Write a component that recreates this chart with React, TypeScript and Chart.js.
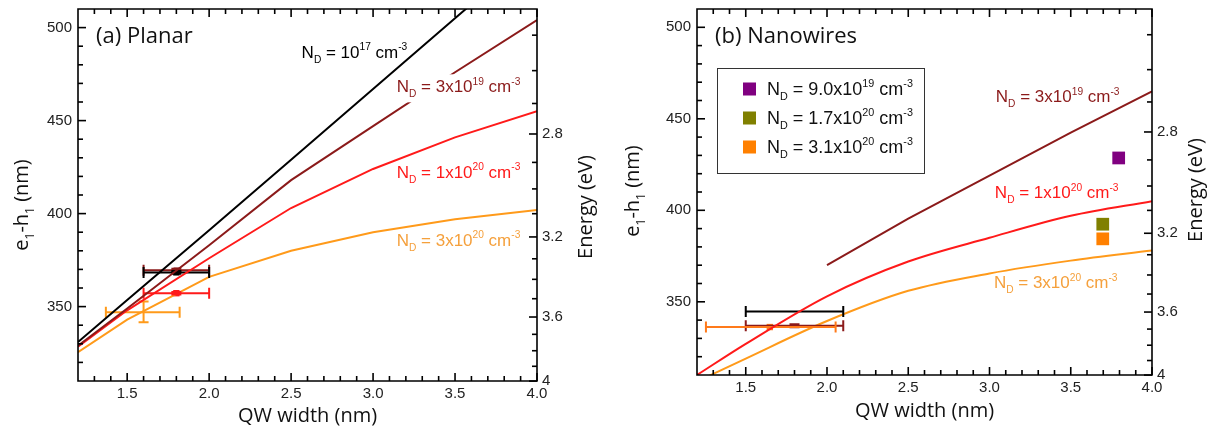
import React, { useEffect, useRef } from 'react';
import { Chart, registerables } from 'chart.js';

Chart.register(...registerables);

// ---------------- shared axes ----------------
const HC_EV_NM = 1239.84;
const X_MIN = 1.2;
const X_MAX = 4.0;
const Y_MIN = 310;
const Y_MAX = 510;
const xMajorTicks = [1.5, 2.0, 2.5, 3.0, 3.5, 4.0];
const xMinorTicks = [1.3, 1.4, 1.6, 1.7, 1.8, 1.9, 2.1, 2.2, 2.3, 2.4, 2.6, 2.7, 2.8, 2.9, 3.1, 3.2, 3.3, 3.4, 3.6, 3.7, 3.8, 3.9];
const yMajorTicks = [350, 400, 450, 500];
const yMinorTicks = [320, 330, 340, 360, 370, 380, 390, 410, 420, 430, 440, 460, 470, 480, 490];
const energyMajorTicks = [2.8, 3.2, 3.6, 4.0];
const energyTickLabels = ['2.8', '3.2', '3.6', '4'];
const energyMinorTicks = [2.5, 2.6, 2.7, 2.9, 3.0, 3.1, 3.3, 3.4, 3.5, 3.7, 3.8, 3.9];

const BLACK = '#000000';
const DARKRED = '#8b1a1a';
const RED = '#ff1a1a';
const ORANGE = '#ff9a1a';
const ORANGE_TEXT = '#f5a03c';

// ---------------- (a) Planar ----------------
const planarWidths = [1.2, 1.5, 2.0, 2.5, 3.0, 3.5, 4.0];
const planarNd1e17 = [331, 353.5, 391, 429, 467, 505, 543];
const planarNd3e19 = [329, 349, 383, 418, 447, 476, 504];
const planarNd1e20 = [328.5, 348, 376, 403, 424, 441, 455];
const planarNd3e20 = [325.5, 343, 366, 380, 390, 397, 402];

const planarExpWidth = [1.8, 1.8, 1.8, 1.6];
const planarExpWl = [369.5, 368.4, 357.2, 346.9];
const planarExpWidthLo = [1.6, 1.6, 1.6, 1.37];
const planarExpWidthHi = [2.0, 2.0, 2.0, 1.82];
const planarExpWlLo = [368.7, 367.6, 356.5, 341.6];
const planarExpWlHi = [370.3, 369.2, 357.9, 352.7];
const planarExpColors = [DARKRED, BLACK, RED, ORANGE];
const planarExpMarker = [4, 4.5, 4.5, 0];

// ---------------- (b) Nanowires ----------------
const nwWidthsHigh = [2.0, 2.5, 3.0, 3.5, 4.0];
const nwNd3e19 = [370, 395.5, 419, 442.5, 465];
const nwWidths = [1.2, 1.5, 2.0, 2.5, 3.0, 3.5, 4.0];
const nwNd1e20 = [310, 327, 353, 372, 385, 397, 405];
const nwNd3e20 = [306.4, 319, 339.5, 356, 365.5, 372.5, 378];

const nwExpWidth = [1.8, 1.8, 1.648];
const nwExpWl = [344.7, 336.9, 336.2];
const nwExpWidthLo = [1.5, 1.5, 1.255];
const nwExpWidthHi = [2.1, 2.1, 2.053];
const nwExpWlLo = [344.7, 336.1, 336.2];
const nwExpWlHi = [344.7, 337.7, 336.2];
const nwExpColors = [BLACK, DARKRED, '#ff7a1a'];
const nwExpMarker = [0, 0, 4.5];

const nwSampleWidth = [3.795, 3.697, 3.697];
const nwSampleWl = [428.6, 392.4, 384.4];
const nwSampleColors = ['#800080', '#808000', '#ff8000'];
const nwSampleMantissa = ['9.0x', '1.7x', '3.1x'];
const nwSampleExponent = ['19', '20', '20'];

// ---------------- text helpers ----------------
type Seg = [string, number]; // 0 normal, 1 superscript, -1 subscript
const SANS = '"Liberation Sans", Arial, sans-serif';
const TITLE_FONT = '"Open Sans", "Liberation Sans", sans-serif';

const nd = (mant: string, exp: string): Seg[] => [
  ['N', 0], ['D', -1], [` = ${mant}10`, 0], [exp, 1], [' cm', 0], ['-3', 1],
];

function segFont(size: number, fam: string, k: number) {
  return `${k ? (size * 0.6).toFixed(1) : size}px ${fam}`;
}
function measureRich(ctx: CanvasRenderingContext2D, segs: Seg[], size: number, fam: string) {
  let w = 0;
  for (const [t, k] of segs) {
    ctx.font = segFont(size, fam, k);
    w += ctx.measureText(t).width;
  }
  return w;
}
function drawRich(ctx: CanvasRenderingContext2D, segs: Seg[], x: number, y: number, size: number, fam: string, color: string) {
  ctx.fillStyle = color;
  ctx.textAlign = 'left';
  ctx.textBaseline = 'alphabetic';
  let cx = x;
  for (const [t, k] of segs) {
    ctx.font = segFont(size, fam, k);
    const dy = k === 1 ? -size * 0.42 : k === -1 ? size * 0.3 : 0;
    ctx.fillText(t, cx, y + dy);
    cx += ctx.measureText(t).width;
  }
  return cx - x;
}

interface Curve { xs: number[]; ys: number[]; color: string; smooth: boolean }
interface Note { segs: Seg[]; x: number; y: number; color: string; bg?: boolean }
interface PanelSpec {
  width: number;
  height: number;
  margins: { left: number; right: number; top: number; bottom: number };
  label: string;
  curves: Curve[];
  exp: { xs: number[]; ys: number[]; xlo: number[]; xhi: number[]; ylo: number[]; yhi: number[]; colors: string[]; marker: number[] };
  samples?: { xs: number[]; ys: number[]; colors: string[] };
  legend?: Seg[][];
  notes: Note[];
  yTitle: { x: number; y: number };
  eTitle: { x: number; y: number };
  xTitleDy: number;
}

const NOTE_SIZE = 17;
const MAJOR_LEN = 8;
const MINOR_LEN = 5;

function drawFrameAndTicks(chart: any) {
  const ctx: CanvasRenderingContext2D = chart.ctx;
  const xs = chart.scales.x;
  const ys = chart.scales.y;
  const ca = chart.chartArea;
  const L = ca.left, R = ca.right, T = ca.top, B = ca.bottom;
  ctx.save();
  ctx.strokeStyle = '#000000';
  ctx.lineWidth = 1.6;
  ctx.beginPath();
  ctx.rect(L, T, R - L, B - T);
  ctx.stroke();
  ctx.lineWidth = 1.6;
  const seg = (x0: number, y0: number, x1: number, y1: number) => {
    ctx.beginPath();
    ctx.moveTo(x0, y0);
    ctx.lineTo(x1, y1);
    ctx.stroke();
  };
  const xTick = (v: number, len: number) => {
    const p = xs.getPixelForValue(v);
    seg(p, B, p, B - len);
    seg(p, T, p, T + len);
  };
  xMajorTicks.forEach((v) => xTick(v, MAJOR_LEN));
  xMinorTicks.forEach((v) => xTick(v, MINOR_LEN));
  const yTick = (v: number, len: number) => {
    const p = ys.getPixelForValue(v);
    seg(L, p, L + len, p);
  };
  yMajorTicks.forEach((v) => yTick(v, MAJOR_LEN));
  yMinorTicks.forEach((v) => yTick(v, MINOR_LEN));
  const eTick = (ev: number, len: number) => {
    const p = ys.getPixelForValue(HC_EV_NM / ev);
    seg(R, p, R - len, p);
  };
  energyMajorTicks.forEach((v) => eTick(v, MAJOR_LEN));
  energyMinorTicks.forEach((v) => eTick(v, MINOR_LEN));
  ctx.restore();
}

function decorPlugin(spec: PanelSpec) {
  return {
    id: 'decor',
    afterDatasetDraw(chart: any, args: any) {
      if (args.index !== spec.curves.length - 1) return;
      const ctx: CanvasRenderingContext2D = chart.ctx;
      const xs = chart.scales.x;
      const ys = chart.scales.y;
      const e = spec.exp;
      ctx.save();
      ctx.lineWidth = 2;
      for (let i = 0; i < e.xs.length; i++) {
        ctx.strokeStyle = e.colors[i];
        const py = ys.getPixelForValue(e.ys[i]);
        const x0 = xs.getPixelForValue(e.xlo[i]);
        const x1 = xs.getPixelForValue(e.xhi[i]);
        const px = xs.getPixelForValue(e.xs[i]);
        ctx.beginPath();
        ctx.moveTo(x0, py); ctx.lineTo(x1, py);
        ctx.moveTo(x0, py - 5.5); ctx.lineTo(x0, py + 5.5);
        ctx.moveTo(x1, py - 5.5); ctx.lineTo(x1, py + 5.5);
        const y0 = ys.getPixelForValue(e.ylo[i]);
        const y1 = ys.getPixelForValue(e.yhi[i]);
        if (Math.abs(y1 - y0) > 0.5) {
          ctx.moveTo(px, y0); ctx.lineTo(px, y1);
          ctx.moveTo(px - 5, y0); ctx.lineTo(px + 5, y0);
          ctx.moveTo(px - 5, y1); ctx.lineTo(px + 5, y1);
        }
        ctx.stroke();
      }
      ctx.restore();
    },
    afterDatasetsDraw(chart: any) {
      const ctx: CanvasRenderingContext2D = chart.ctx;
      const xs = chart.scales.x;
      const ys = chart.scales.y;
      const ca = chart.chartArea;
      ctx.save();
      for (const n of spec.notes) {
        const px = xs.getPixelForValue(n.x);
        const py = ys.getPixelForValue(n.y);
        if (n.bg) {
          const w = measureRich(ctx, n.segs, NOTE_SIZE, SANS);
          ctx.fillStyle = '#ffffff';
          ctx.fillRect(px - 2, py - 18, w + 4, 28);
        }
        drawRich(ctx, n.segs, px, py, NOTE_SIZE, SANS, n.color);
      }
      if (spec.legend && spec.samples) {
        const lx = ca.left + 20;
        const ly = ca.top + 59;
        ctx.strokeStyle = '#333';
        ctx.lineWidth = 1;
        ctx.strokeRect(lx + 0.5, ly + 0.5, 207, 105);
        spec.legend.forEach((segs, i) => {
          const cy = ly + 21 + i * 29;
          ctx.fillStyle = spec.samples!.colors[i];
          ctx.fillRect(lx + 26, cy - 6.5, 13, 13);
          drawRich(ctx, segs, lx + 50, cy + 6, 18, SANS, '#111');
        });
      }
      ctx.restore();
    },
    afterDraw(chart: any) {
      const ctx: CanvasRenderingContext2D = chart.ctx;
      const ca = chart.chartArea;
      drawFrameAndTicks(chart);
      ctx.save();
      // panel label
      ctx.fillStyle = '#111';
      ctx.font = `22px ${TITLE_FONT}`;
      ctx.textAlign = 'left';
      ctx.textBaseline = 'alphabetic';
      ctx.fillText(spec.label, ca.left + 18, ca.top + 34);

      // x title
      ctx.font = `20px ${TITLE_FONT}`;
      ctx.textAlign = 'center';
      ctx.fillText('QW width (nm)', (ca.left + ca.right) / 2, ca.bottom + spec.xTitleDy);

      // rotated y titles
      const ySegs: Seg[] = [['e', 0], ['1', -1], ['-h', 0], ['1', -1], [' (nm)', 0]];
      const eSegs: Seg[] = [['Energy (eV)', 0]];
      const rot = (segs: Seg[], cx: number, cy: number) => {
        ctx.save();
        ctx.translate(cx, cy);
        ctx.rotate(-Math.PI / 2);
        const w = measureRich(ctx, segs, 20, TITLE_FONT);
        drawRich(ctx, segs, -w / 2, 0, 20, TITLE_FONT, '#111');
        ctx.restore();
      };
      rot(ySegs, spec.yTitle.x, spec.yTitle.y);
      rot(eSegs, spec.eTitle.x, spec.eTitle.y);
      ctx.restore();
    },
  };
}

function buildConfig(spec: PanelSpec): any {
  const datasets: any[] = spec.curves.map((c) => ({
    type: 'scatter',
    data: c.xs.map((x, i) => ({ x, y: c.ys[i] })),
    showLine: true,
    borderColor: c.color,
    borderWidth: 2,
    pointRadius: 0,
    tension: 0,
    cubicInterpolationMode: c.smooth ? 'monotone' : 'default',
  }));
  const e = spec.exp;
  datasets.push({
    type: 'scatter',
    data: e.xs.map((x, i) => ({ x, y: e.ys[i] })),
    pointStyle: 'rect',
    pointRadius: e.marker,
    backgroundColor: e.colors,
    borderColor: e.colors,
    borderWidth: 0,
  });
  if (spec.samples) {
    const s = spec.samples;
    datasets.push({
      type: 'scatter',
      data: s.xs.map((x, i) => ({ x, y: s.ys[i] })),
      pointStyle: 'rect',
      pointRadius: 9,
      backgroundColor: s.colors,
      borderColor: s.colors,
      borderWidth: 0,
    });
  }
  const m = spec.margins;
  const tickFont = { family: SANS, size: 15 };
  return {
    type: 'scatter',
    data: { datasets },
    options: {
      animation: false,
      responsive: false,
      events: [],
      layout: { padding: { top: m.top, left: 0, right: 0, bottom: 0 } },
      plugins: { legend: { display: false }, tooltip: { enabled: false } },
      scales: {
        x: {
          type: 'linear',
          min: X_MIN,
          max: X_MAX,
          grid: { display: false, drawTicks: false },
          border: { display: false },
          ticks: { font: tickFont, color: '#222', padding: 4, autoSkip: false, maxRotation: 0, callback: (v: number) => Number(v).toFixed(1) },
          afterBuildTicks: (s: any) => { s.ticks = xMajorTicks.map((value) => ({ value })); },
          afterFit: (s: any) => { s.height = m.bottom; s.paddingLeft = 0; s.paddingRight = 0; },
        },
        y: {
          type: 'linear',
          position: 'left',
          min: Y_MIN,
          max: Y_MAX,
          grid: { display: false, drawTicks: false },
          border: { display: false },
          ticks: { font: tickFont, color: '#222', padding: 6, autoSkip: false },
          afterBuildTicks: (s: any) => { s.ticks = yMajorTicks.map((value) => ({ value })); },
          afterFit: (s: any) => { s.width = m.left; s.paddingTop = 0; s.paddingBottom = 0; },
        },
        energy: {
          type: 'linear',
          position: 'right',
          min: Y_MIN,
          max: Y_MAX,
          grid: { display: false, drawTicks: false },
          border: { display: false },
          ticks: { font: tickFont, color: '#222', padding: 5, autoSkip: false, callback: (_v: number, i: number) => energyTickLabels[i] },
          afterBuildTicks: (s: any) => { s.ticks = energyMajorTicks.map((ev) => ({ value: HC_EV_NM / ev })); },
          afterFit: (s: any) => { s.width = m.right; s.paddingTop = 0; s.paddingBottom = 0; },
        },
      },
    },
    plugins: [decorPlugin(spec)],
  };
}

const planarSpec: PanelSpec = {
  width: 610,
  height: 434,
  margins: { left: 78, right: 73, top: 9, bottom: 53 },
  label: '(a) Planar',
  curves: [
    { xs: planarWidths, ys: planarNd1e17, color: BLACK, smooth: false },
    { xs: planarWidths, ys: planarNd3e19, color: DARKRED, smooth: false },
    { xs: planarWidths, ys: planarNd1e20, color: RED, smooth: false },
    { xs: planarWidths, ys: planarNd3e20, color: ORANGE, smooth: false },
  ],
  exp: { xs: planarExpWidth, ys: planarExpWl, xlo: planarExpWidthLo, xhi: planarExpWidthHi, ylo: planarExpWlLo, yhi: planarExpWlHi, colors: planarExpColors, marker: planarExpMarker },
  notes: [
    { segs: nd('', '17'), x: 2.564, y: 483.9, color: BLACK },
    { segs: nd('3x', '19'), x: 3.144, y: 465.2, color: DARKRED, bg: true },
    { segs: nd('1x', '20'), x: 3.144, y: 419.4, color: RED },
    { segs: nd('3x', '20'), x: 3.144, y: 382.8, color: ORANGE_TEXT },
  ],
  yTitle: { x: 28, y: 205 },
  eTitle: { x: 592, y: 207 },
  xTitleDy: 41,
};

const nanowireSpec: PanelSpec = {
  width: 609,
  height: 434,
  margins: { left: 87, right: 67, top: 9, bottom: 59 },
  label: '(b) Nanowires',
  curves: [
    { xs: nwWidthsHigh, ys: nwNd3e19, color: DARKRED, smooth: false },
    { xs: nwWidths, ys: nwNd1e20, color: RED, smooth: true },
    { xs: nwWidths, ys: nwNd3e20, color: ORANGE, smooth: true },
  ],
  exp: { xs: nwExpWidth, ys: nwExpWl, xlo: nwExpWidthLo, xhi: nwExpWidthHi, ylo: nwExpWlLo, yhi: nwExpWlHi, colors: nwExpColors, marker: nwExpMarker },
  samples: { xs: nwSampleWidth, ys: nwSampleWl, colors: nwSampleColors },
  legend: nwSampleMantissa.map((mnt, i) => nd(mnt, nwSampleExponent[i])),
  notes: [
    { segs: nd('3x', '19'), x: 3.039, y: 459.1, color: DARKRED },
    { segs: nd('1x', '20'), x: 3.033, y: 406.7, color: RED },
    { segs: nd('3x', '20'), x: 3.027, y: 357.6, color: ORANGE_TEXT },
  ],
  yTitle: { x: 29, y: 191 },
  eTitle: { x: 592, y: 190 },
  xTitleDy: 42,
};

function Panel({ spec, left }: { spec: PanelSpec; left: number }) {
  const ref = useRef<HTMLCanvasElement | null>(null);
  useEffect(() => {
    if (!ref.current) return;
    const chart = new Chart(ref.current, buildConfig(spec));
    return () => chart.destroy();
  }, [spec]);
  return (
    <canvas
      ref={ref}
      width={spec.width}
      height={spec.height}
      style={{ position: 'absolute', left, top: 0, width: spec.width, height: spec.height, display: 'block' }}
    />
  );
}

export default function App() {
  return (
    <div style={{ position: 'absolute', left: 0, top: 0, width: 1219, height: 434, background: '#fff', overflow: 'hidden' }}>
      <Panel spec={planarSpec} left={0} />
      <Panel spec={nanowireSpec} left={610} />
    </div>
  );
}
